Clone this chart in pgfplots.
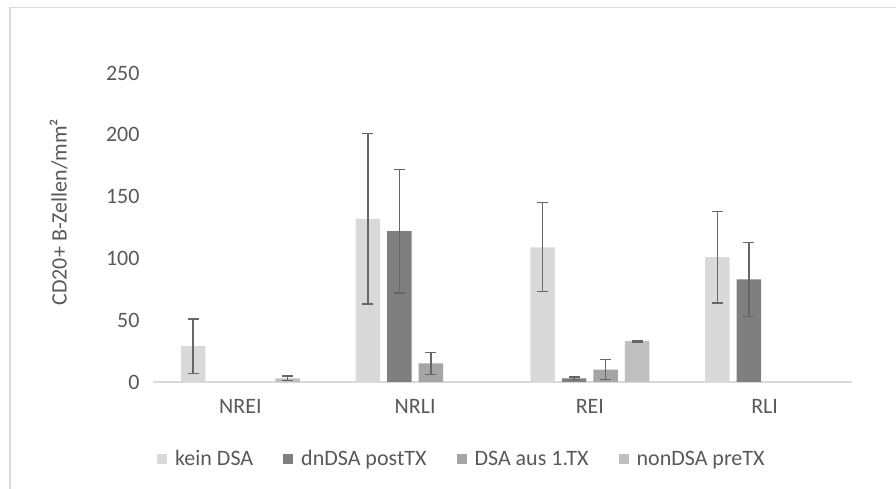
\documentclass[border=0pt]{standalone}
\usepackage{fontspec}
\setmainfont{Carlito}
\usepackage{pgfplots}
\pgfplotsset{compat=1.18}

\definecolor{textgray}{HTML}{595959}
\definecolor{framegray}{HTML}{D9D9D9}
\definecolor{errgray}{HTML}{666666}
\definecolor{cKein}{HTML}{D9D9D9}
\definecolor{cDn}{HTML}{7F7F7F}
\definecolor{cAus}{HTML}{A5A5A5}
\definecolor{cNon}{HTML}{BFBFBF}

\newcommand{\chartfont}{\fontsize{22bp}{26bp}\selectfont}

\pgfplotsset{
  sqbar/.style={
    fill=#1, draw=none,
    error bars/y dir=both,
    error bars/y explicit,
    error bars/error bar style={errgray, line width=1.4bp},
    error bars/error mark options={errgray, line width=1.4bp, mark size=5.5bp, rotate=90},
  },
}

\begin{document}
\begin{tikzpicture}
\useasboundingbox (0,0) rectangle (896bp,489bp);
% chart frame
\draw[framegray, line width=1.2bp] (10bp,0) -- (10bp,481.7bp) -- (896bp,481.7bp);

\begin{axis}[
  at={(153bp,107bp)}, anchor=south west,
  scale only axis,
  width=699bp, height=309bp,
  xmin=-0.5, xmax=3.5,
  ymin=0, ymax=250,
  ytick={0,50,...,250},
  xtick={0,1,2,3},
  xticklabels={NREI,NRLI,REI,RLI},
  major tick length=0pt,
  axis lines*=left,
  y axis line style={draw=none},
  x axis line style={framegray, line width=1.2bp},
  /pgf/number format/assume math mode=true,
  tick label style={font=\chartfont, text=textgray},
  yticklabel style={xshift=-10bp},
  xticklabel style={yshift=-13.5bp},
  ylabel={CD20+ B-Zellen/mm²},
  ylabel style={font=\chartfont, text=textgray,
    at={(axis description cs:-0.135,0.55)}, anchor=center},
  ybar, bar width=24.5bp,
  every axis plot post/.append style={
    legend image code/.code={\fill[##1] (0bp,-5bp) rectangle (10bp,5bp);},
  },
  legend columns=4,
  legend style={
    at={(axis description cs:0.0057,-0.249)}, anchor=west,
    draw=none, fill=none, inner sep=0pt, font=\chartfont, text=textgray,
    nodes={inner xsep=0pt, inner ysep=2bp},
    /tikz/every odd column/.append style={column sep=8bp},
    /tikz/every even column/.append style={column sep=30bp},
  },
  legend cell align=left,
]

\addplot[sqbar=cKein, bar shift=-47.25bp] coordinates {
  (0,29)  +- (0,22)
  (1,132) +- (0,69)
  (2,109) +- (0,36)
  (3,101) +- (0,37)
};
\addlegendentry{kein DSA}

\addplot[sqbar=cDn, bar shift=-15.75bp] coordinates {
  (1,122) +- (0,50)
  (2,3)   +- (0,1)
  (3,83)  +- (0,30)
};
\addlegendentry{dnDSA postTX}

\addplot[sqbar=cAus, bar shift=15.75bp] coordinates {
  (1,15) +- (0,9)
  (2,10) +- (0,8)
};
\addlegendentry{DSA aus 1.TX}

\addplot[sqbar=cNon, bar shift=47.25bp] coordinates {
  (0,3)  +- (0,2)
  (2,33) +- (0,0.5)
};
\addlegendentry{nonDSA preTX}

\end{axis}
\end{tikzpicture}
\end{document}
